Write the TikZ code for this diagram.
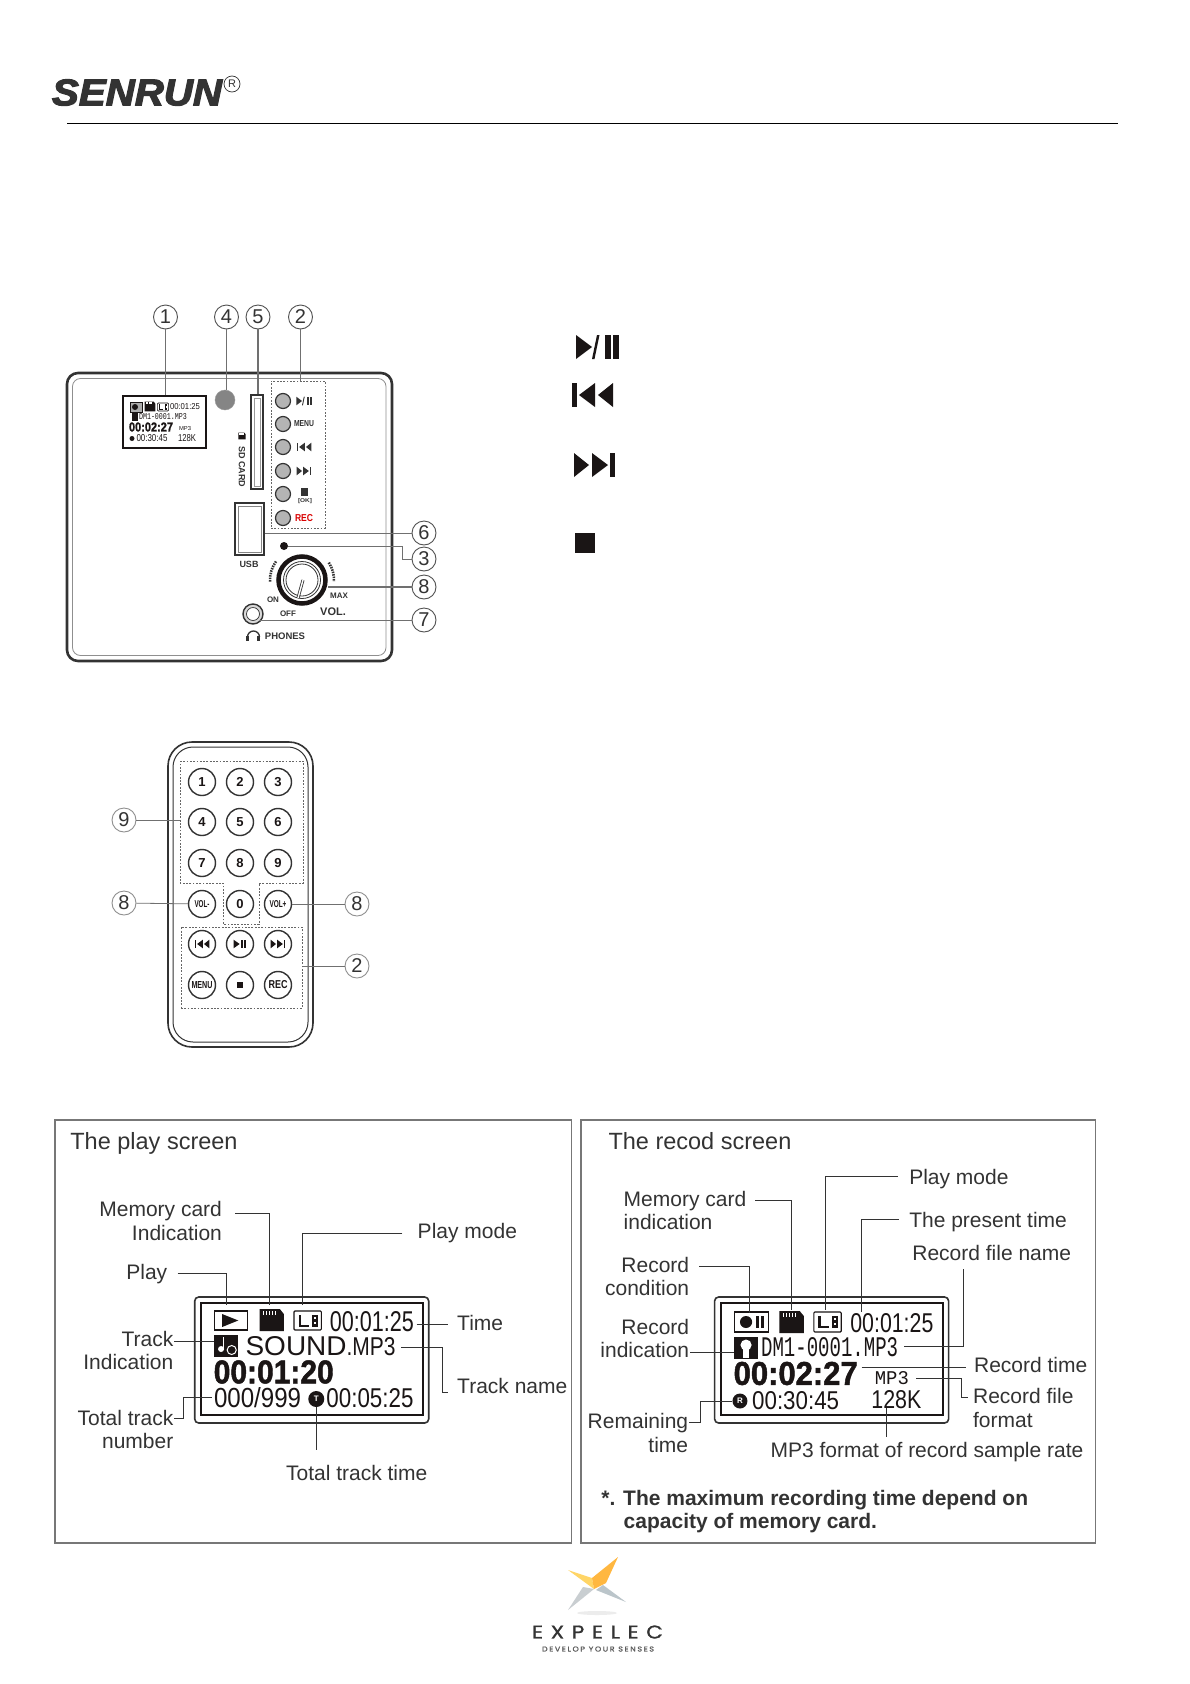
\documentclass[tikz,border=0pt]{standalone}
\usepackage{fontspec}
\usepackage{graphicx}
\setmainfont{Liberation Sans}
\newfontfamily\logofont[FakeBold=1]{Poppins}
\newfontfamily\lcdmono{Liberation Mono}
\newfontfamily\brandfont[FakeBold=3]{Liberation Sans Bold Italic}
\newfontfamily\lcdbold[FakeBold=1.5]{Liberation Sans Bold}
\definecolor{ink}{HTML}{333333}
\definecolor{dark}{HTML}{1A1515}
\definecolor{frameg}{HTML}{777777}
\definecolor{btn}{HTML}{B4B4B4}
\newcommand\fitt[3]{\resizebox{#1pt}{#2pt}{#3}}
\newcommand\fsz[1]{\fontsize{#1}{#1}\selectfont}
\tikzset{
  x=1pt,y=-1pt,
  lbl/.style={inner sep=0,text=ink,font=\fsz{21}},
  lcd/.style={inner sep=0,text=dark},
  conn/.style={draw=ink,line width=1pt},
  thinconn/.style={draw=ink!70,line width=.8pt},
  num/.style={circle,draw=ink!85,line width=.9pt,inner sep=0,minimum size=24pt,text=ink,font=\fsz{20}},
  panelbtn/.style={circle,draw=ink,line width=1.2pt,fill=btn,inner sep=0,minimum size=15pt},
  rbtn/.style={circle,draw=ink,line width=1.4pt,inner sep=0,minimum size=27pt,text=dark,font=\bfseries\fsz{13}},
  dotbox/.style={draw=ink!75,line width=1pt,dash pattern=on 1.8pt off 1.5pt},
  lcdouter/.style={draw=ink,line width=1.6pt,rounded corners=4pt},
  lcdinner/.style={draw=dark,line width=1.8pt},
  previco/.pic={\fill (-20.5,-12) rectangle (-15.5,12);
    \fill (2.5,-12)--(2.5,12)--(-13.5,0)--cycle;
    \fill (20.5,-12)--(20.5,12)--(5.5,0)--cycle;},
  ppico/.pic={\fill (-21.5,-12)--(-21.5,12)--(-5.5,0)--cycle;
    \fill (-.5,-12)--(2,-12)--(-3,12)--(-5.5,12)--cycle;
    \fill (7.5,-12) rectangle (13.5,12);
    \fill (15.5,-12) rectangle (21.5,12);},
  playbarico/.pic={\fill (-18,-12)--(-18,12)--(-1,0)--cycle;
    \fill (3,-12) rectangle (9,12);
    \fill (12,-12) rectangle (18,12);},
  stopico/.pic={\fill (-10,-10) rectangle (10,10);},
  modeico/.pic={\draw[fill=white,rounded corners=1pt] (-13.5,-9.5) rectangle (13.5,9.5);
    \fill (-9,-6) rectangle (-6.5,6);\fill (-9,4) rectangle (1,6);
    \fill (4,-6) rectangle (10,6);
    \fill[white] (6,-3.5) rectangle (8,-1.5);\fill[white] (6,1) rectangle (8,3);},
  sdico/.pic={\fill (-12,-11)--(8,-11)--(12,-6)--(12,11)--(-12,11)--cycle;
    \foreach \i in {-9,-6,-3,0,3}{\fill[white] (\i,-9) rectangle ++(1.6,4);}},
}
\begin{document}
\begin{tikzpicture}
\useasboundingbox (0,0) rectangle (1190,1684);
\fill[white] (0,0) rectangle (1190,1684);

% ---- header
\node[inner sep=0,text=ink] (brand) at (137,92.5) {\fitt{170}{26}{\brandfont SENRUN}};
\node[circle,draw=ink,line width=.7pt,inner sep=0,minimum size=16pt,text=ink,font=\fsz{11}] (regmark) at (232,84) {R};
\coordinate (ruleA) at (67,123.5);
\coordinate (ruleB) at (1118,123.5);
\draw[black,line width=1.1pt] (ruleA) -- (ruleB);

% ---- big key symbols
\pic[color=dark] at (597.5,347) {ppico};
\pic[color=dark] at (592.5,395) {previco};
\pic[color=dark,xscale=-1] at (594.5,465) {previco};
\pic[color=dark] at (584.5,543) {stopico};

% ---- front panel
\draw[draw=ink,line width=2.6pt,rounded corners=11pt] (67,373) rectangle (392,661);
\draw[draw=ink!55,line width=.8pt,rounded corners=8pt] (72.5,378.5) rectangle (386,655.5);

\node[num] (n1) at (165.5,317) {1};
\node[num] (n4) at (226.5,317) {4};
\node[num] (n5) at (258,317) {5};
\node[num] (n2) at (300.5,317) {2};
\node[num] (n6) at (424,533) {6};
\node[num] (n3) at (424,559) {3};
\node[num] (n8a) at (424,587) {8};
\node[num] (n7) at (424,620) {7};

% mini screen
\node[draw=dark,line width=2.6pt,inner sep=0,minimum width=83pt,minimum height=52pt] (miniscreen) at (164.5,422) {};
\draw[dark,line width=.7pt,fill=ink!40] (130,402) rectangle (142,412);
\fill[dark] (135,407) circle (3);
\pic[color=dark,scale=.45] at (150,406.5) {sdico};
\pic[color=dark,scale=.42,line width=.6pt] at (163,407) {modeico};
\node[lcd] (mtime) at (185,407) {\fitt{30}{6}{00:01:25}};
\fill[dark] (132,413) rectangle (138,421);
\node[lcd] (mname) at (163,417) {\fitt{48}{6}{\lcdmono DM1-0001.MP3}};
\node[lcd] (mrec) at (151,427) {\fitt{44}{9}{\lcdbold 00:02:27}};
\node[lcd] (mfmt) at (185,428.5) {\fitt{12}{4}{MP3}};
\fill[dark] (132,438.5) circle (2.5);
\node[lcd] (mrem) at (152,438.5) {\fitt{31}{7}{00:30:45}};
\node[lcd] (mkbps) at (187,438.5) {\fitt{18}{7}{128K}};

\draw[thinconn,line width=1.1pt] (n1) -- (n1 |- miniscreen.north);

\node[circle,fill=ink!60,draw=ink!50,inner sep=0,minimum size=20pt] (sensor) at (225,400) {};
\draw[thinconn,line width=1.1pt] (n4) -- (n4 |- sensor.north);

\node[draw=ink,line width=1.4pt,fill=white,inner sep=0,minimum width=12pt,minimum height=94pt] (slot) at (257,442) {};
\draw[ink!50,line width=.7pt] (254,398) rectangle (260,486);
\draw[thinconn,line width=1.1pt] (n5) -- (n5 |- slot.north);
\pic[color=dark,scale=.3] at (242,436) {sdico};
\node[inner sep=0,rotate=-90,text=ink,font=\bfseries\fsz{9}] (sdlabel) at (242,467) {SD CARD};

\node[dotbox,inner sep=0,minimum width=54pt,minimum height=147pt] (panelgroup) at (298,454.5) {};
\draw[thinconn,line width=1.1pt] (n2) -- (n2 |- panelgroup.north);
\node[panelbtn] (pb1) at (283,401) {};
\node[panelbtn] (pb2) at (283,424) {};
\node[panelbtn] (pb3) at (283,447) {};
\node[panelbtn] (pb4) at (283,471) {};
\node[panelbtn] (pb5) at (283,494) {};
\node[panelbtn] (pb6) at (283,518) {};
\pic[color=ink,scale=.36] at (304,401) {ppico};
\node[inner sep=0,text=ink] (pmenu) at (304,424) {\fitt{20}{6}{\bfseries MENU}};
\pic[color=ink,scale=.36] at (304,447) {previco};
\pic[color=ink,scale=.36,xscale=-1] at (304,471) {previco};
\pic[color=ink,scale=.38] at (304.5,492) {stopico};
\node[inner sep=0,text=ink] (pok) at (305,501) {\fitt{14}{4}{\bfseries [OK]}};
\node[inner sep=0,text=red!85!black] (prec) at (304,518) {\fitt{18}{7}{\bfseries REC}};

\node[draw=ink,line width=1.4pt,fill=white,inner sep=0,minimum width=29pt,minimum height=52pt] (usb) at (249.5,529) {};
\draw[ink!60,line width=.7pt] (238,506) rectangle (261,552);
\node[inner sep=0,text=ink,font=\bfseries\fsz{9}] (usblabel) at (249,564) {USB};
\draw[thinconn] (n6) -- (n6 -| usb.east);

\node[circle,fill=dark,inner sep=0,minimum size=8pt] (led) at (284,546) {};
\coordinate (ledbend) at (402,546);
\draw[thinconn,line width=1pt] (led) -- (ledbend) -- (n3 -| ledbend) -- (n3);

\node[circle,draw=dark,line width=4.5pt,fill=white,inner sep=0,minimum size=47pt] (knob) at (302,580) {};
\draw[ink,line width=.8pt] (knob.center) circle (18.5);
\draw[ink,line width=.8pt] (knob.center) circle (16);
\coordinate (ptrA) at (298,598);
\coordinate (ptrB) at (303,580);
\draw[ink,line width=3pt] (ptrA) -- (ptrB);
\draw[white,line width=1.4pt] (ptrA) -- (ptrB);
\draw[ink,line width=2.6pt,dash pattern=on 1.5pt off 1pt] (knob.center) ++(177:32) arc[start angle=177,end angle=217,radius=32];
\draw[ink,line width=2.6pt,dash pattern=on 1.5pt off 1pt] (knob.center) ++(-33:32) arc[start angle=-33,end angle=3,radius=32];
\coordinate (knobtap) at (328,587);
\draw[thinconn,line width=1.1pt] (n8a) -- (knobtap);
\node[inner sep=0,text=ink,font=\bfseries\fsz{8}] (onlabel) at (273,600) {ON};
\node[inner sep=0,text=ink,font=\bfseries\fsz{8}] (offlabel) at (288,614) {OFF};
\node[inner sep=0,text=ink,font=\bfseries\fsz{8}] (maxlabel) at (339,596) {MAX};
\node[inner sep=0,text=ink,font=\bfseries\fsz{11}] (vollabel) at (333,612) {VOL.};

\node[circle,draw=ink,line width=1.4pt,fill=btn!50,inner sep=0,minimum size=20pt] (jack) at (253,614) {};
\draw[ink,line width=.7pt,fill=white] (jack.center) circle (6.5);
\coordinate (jacktap) at (260,620);
\draw[thinconn,line width=.8pt] (n7) -- (jacktap);
\draw[ink,line width=1.3pt] (247.5,637) arc[start angle=180,end angle=360,radius=6];
\fill[ink] (246,636) rectangle (249,641);
\fill[ink] (257,636) rectangle (260,641);
\node[inner sep=0,text=ink,font=\bfseries\fsz{9.5}] (phones) at (285,636) {PHONES};

% ---- remote control
\draw[ink,line width=1.6pt,rounded corners=24pt] (168,742) rectangle (313,1047);
\draw[ink,line width=1pt,rounded corners=20pt] (173,747) rectangle (308,1042);
\coordinate (g1) at (180,761);
\coordinate (g2) at (303,761);
\coordinate (g3) at (303,883);
\coordinate (g4) at (259,883);
\coordinate (g5) at (259,924);
\coordinate (g6) at (223,924);
\coordinate (g7) at (223,883);
\coordinate (g8) at (180,883);
\draw[dotbox] (g1) -- (g2) -- (g3) -- (g4) -- (g5) -- (g6) -- (g7) -- (g8) -- cycle;
\node[dotbox,inner sep=0,minimum width=121pt,minimum height=81pt] (transport) at (241.5,967.5) {};

\node[rbtn] (k1) at (202,782) {1};
\node[rbtn] (k2) at (240,782) {2};
\node[rbtn] (k3) at (278,782) {3};
\node[rbtn] (k4) at (202,822) {4};
\node[rbtn] (k5) at (240,822) {5};
\node[rbtn] (k6) at (278,822) {6};
\node[rbtn] (k7) at (202,863) {7};
\node[rbtn] (k8) at (240,863) {8};
\node[rbtn] (k9) at (278,863) {9};
\node[rbtn] (kvm) at (202,904) {\fitt{15}{7}{VOL-}};
\node[rbtn] (k0) at (240,904) {0};
\node[rbtn] (kvp) at (278,904) {\fitt{17}{7}{VOL+}};
\node[rbtn] (kprev) at (202,944) {};
\node[rbtn] (kplay) at (240,944) {};
\node[rbtn] (knext) at (278,944) {};
\node[rbtn] (kmenu) at (202,985) {\fitt{21}{7}{MENU}};
\node[rbtn] (kstop) at (240,985) {};
\node[rbtn] (krec) at (278,985) {\fitt{19}{8}{REC}};
\pic[color=dark,scale=.36] at (kprev) {previco};
\pic[color=dark,scale=.36] at (kplay) {playbarico};
\pic[color=dark,scale=.36,xscale=-1] at (knext) {previco};
\pic[color=dark,scale=.3] at (kstop) {stopico};

\node[num,draw=ink!55] (r9) at (124,820) {9};
\node[num,draw=ink!55] (r8a) at (124,903) {8};
\node[num,draw=ink!55] (r8b) at (357,904) {8};
\node[num,draw=ink!55] (r2) at (357,966) {2};
\draw[thinconn] (r9) -- (r9 -| g1);
\draw[thinconn] (r8a) -- (kvm);
\draw[thinconn] (r8b) -- (kvp);
\draw[thinconn] (r2) -- (r2 -| transport.east);

% ---- play screen panel
\begin{scope}[x=1.0127pt,xshift=-0.7pt]
\node[draw=frameg,line width=1.4pt,inner sep=0,minimum width=516.5pt,minimum height=423pt] (playpanel) at (310,1331.5) {};
\node[lbl,font=\fsz{23.5},anchor=base west] (ptitle) at (70,1149) {The play screen};

\node[draw=ink,lcdouter,inner sep=0,minimum width=234pt,minimum height=126pt] (plcd) at (308.5,1360) {};
\node[lcdinner,inner sep=0,minimum width=222pt,minimum height=112pt] (plcdin) at (308.5,1359) {};
\node[draw=dark,line width=1.1pt,inner sep=0,minimum width=33pt,minimum height=19pt] (picoplay) at (228.5,1320.5) {};
\fill[dark] (220,1314)--(220,1327)--(236,1320.5)--cycle;
\pic[color=dark] at (269,1320) {sdico};
\pic[color=dark,line width=1.1pt] at (304.5,1320.5) {modeico};
\node[lcd] (ptime) at (368,1322) {\fitt{84}{20}{00:01:25}};
\fill[dark] (212,1335) rectangle (236,1357);
\fill[white] (219,1349) circle (3);\fill[white] (220.5,1337) rectangle (222,1349);
\draw[white,fill=dark,line width=1pt] (229.5,1350) circle (4.5);
\node[lcd,anchor=base west] (pname) at (243,1355) {\fitt{101}{19}{SOUND}\fitt{49}{18}{.MP3}};
\node[lcd] (pelapsed) at (271,1372) {\fitt{120}{23}{\lcdbold 00:01:20}};
\node[lcd] (pcount) at (255,1398) {\fitt{87}{20}{000/999}};
\node[circle,fill=dark,inner sep=0,minimum size=16pt,text=white,font=\bfseries\fsz{8}] (ptee) at (313,1399) {T};
\node[lcd] (ptotal) at (366,1398) {\fitt{87}{19}{00:05:25}};

\node[lbl,anchor=base east] (lmem1) at (220,1216) {Memory card};
\node[lbl,anchor=base east] (lmem2) at (220,1240) {Indication};
\node[lbl,anchor=base west] (lmode) at (413,1238) {Play mode};
\node[lbl,anchor=base east] (lplay) at (166,1279) {Play};
\node[lbl,anchor=base west] (ltime) at (452,1330) {Time};
\node[lbl,anchor=base east] (ltrk1) at (172,1346) {Track};
\node[lbl,anchor=base east] (ltrk2) at (172,1369) {Indication};
\node[lbl,anchor=base west] (lname) at (452,1393) {Track name};
\node[lbl,anchor=base east] (lttn1) at (172,1425) {Total track};
\node[lbl,anchor=base east] (lttn2) at (172,1448) {number};
\node[lbl,anchor=base west] (lttt) at (283,1480) {Total track time};

\coordinate (pa1) at (233,1213); \coordinate (pa2) at (267,1305);
\draw[conn] (pa1) -| (pa2);
\coordinate (pb1c) at (398,1233); \coordinate (pb2c) at (299,1305);
\draw[conn] (pb1c) -| (pb2c);
\coordinate (pc1) at (176,1273); \coordinate (pc2) at (224,1305);
\draw[conn] (pc1) -| (pc2);
\coordinate (pd1) at (412,1324); \coordinate (pd2) at (443,1324);
\draw[conn] (pd1) -- (pd2);
\coordinate (pe1) at (173,1341); \coordinate (pe2) at (212,1341);
\draw[conn] (pe1) -- (pe2);
\coordinate (pf1) at (397,1347); \coordinate (pf2) at (438,1392); \coordinate (pf3) at (443,1392);
\draw[conn] (pf1) -| (pf2) -- (pf3);
\coordinate (pg1) at (173,1418); \coordinate (pg2) at (182,1397); \coordinate (pg3) at (210,1397);
\draw[conn] (pg1) -| (pg2) -- (pg3);
\coordinate (ph1) at (313,1450);
\draw[conn] (ptee) -- (ph1);
\end{scope}

% ---- record screen panel
\begin{scope}[x=1.0127pt,xshift=-7.4pt]
\node[draw=frameg,line width=1.4pt,inner sep=0,minimum width=514.5pt,minimum height=423pt] (recpanel) at (835,1331.5) {};
\node[lbl,font=\fsz{23.5},anchor=base west] (rtitle) at (608,1149) {The recod screen};

\node[draw=ink,lcdouter,inner sep=0,minimum width=234pt,minimum height=126pt] (rlcd) at (828.5,1360) {};
\node[lcdinner,inner sep=0,minimum width=222pt,minimum height=112pt] (rlcdin) at (828.5,1359) {};
\node[draw=dark,line width=1.1pt,inner sep=0,minimum width=34pt,minimum height=20pt] (ricorec) at (749,1322) {};
\fill[dark] (744,1322) circle (6);
\fill[dark] (754,1316) rectangle (757,1328);
\fill[dark] (759,1316) rectangle (762,1328);
\pic[color=dark] at (789,1322) {sdico};
\pic[color=dark,line width=1.1pt,yscale=1.05] at (824.5,1322) {modeico};
\node[lcd] (rtime) at (888,1323.5) {\fitt{83}{19}{00:01:25}};
\fill[dark] (732,1337) rectangle (756,1359);
\fill[white] (744,1345) circle (5.5);\fill[white] (741,1349) rectangle (747,1358);
\node[lcd] (rname) at (826.5,1347.5) {\fitt{137}{19}{\lcdmono DM1-0001.MP3}};
\node[lcd] (relapsed) at (793,1373.5) {\fitt{124}{23}{\lcdbold 00:02:27}};
\node[lcd] (rfmt) at (888,1378.5) {\fitt{34}{13}{\lcdmono MP3}};
\node[circle,fill=dark,inner sep=0,minimum size=15pt,text=white,font=\bfseries\fsz{8}] (rarr) at (738,1401) {R};
\node[lcd] (rrem) at (793,1400.5) {\fitt{87}{18}{00:30:45}};
\node[lcd] (rkbps) at (892.5,1400) {\fitt{50}{18}{128K}};

\node[lbl,anchor=base west] (qmode) at (905,1184) {Play mode};
\node[lbl,anchor=base west] (qmem1) at (623,1206) {Memory card};
\node[lbl,anchor=base west] (qmem2) at (623,1229) {indication};
\node[lbl,anchor=base west] (qnow) at (905,1227) {The present time};
\node[lbl,anchor=base west] (qfile) at (908,1260) {Record file name};
\node[lbl,anchor=base east] (qcond1) at (688,1272) {Record};
\node[lbl,anchor=base east] (qcond2) at (688,1295) {condition};
\node[lbl,anchor=base east] (qind1) at (688,1334) {Record};
\node[lbl,anchor=base east] (qind2) at (688,1357) {indication};
\node[lbl,anchor=base west] (qrt) at (969,1372) {Record time};
\node[lbl,anchor=base west] (qff1) at (968,1403) {Record file};
\node[lbl,anchor=base west] (qff2) at (968,1427) {format};
\node[lbl,anchor=base east] (qrem1) at (687,1428) {Remaining};
\node[lbl,anchor=base east] (qrem2) at (687,1452) {time};
\node[lbl,anchor=base west] (qmp3) at (768,1457) {MP3 format of record sample rate};
\node[lbl,font=\bfseries\fsz{21},anchor=base west] (note1) at (601,1505) {*. The maximum recording time depend on};
\node[lbl,font=\bfseries\fsz{21},anchor=base west] (note2) at (623,1528) {capacity of memory card.};

\coordinate (qa1) at (894,1176); \coordinate (qa2) at (822,1310);
\draw[conn] (qa1) -| (qa2);
\coordinate (qb1) at (753,1200); \coordinate (qb2) at (789,1310);
\draw[conn] (qb1) -| (qb2);
\coordinate (qc1) at (895,1219); \coordinate (qc2) at (858,1312);
\draw[conn] (qc1) -| (qc2);
\coordinate (qd1) at (959,1269); \coordinate (qd2) at (900,1346);
\draw[conn] (qd1) |- (qd2);
\coordinate (qe1) at (698,1266); \coordinate (qe2) at (747,1313);
\draw[conn] (qe1) -| (qe2);
\coordinate (qf1) at (689,1352); \coordinate (qf2) at (732,1352);
\draw[conn] (qf1) -- (qf2);
\coordinate (qg1) at (858,1367); \coordinate (qg2) at (961,1367);
\draw[conn] (qg1) -- (qg2);
\coordinate (qh1) at (912,1378); \coordinate (qh2) at (957,1397); \coordinate (qh3) at (963,1397);
\draw[conn] (qh1) -| (qh2) -- (qh3);
\coordinate (qi1) at (688,1422); \coordinate (qi2) at (699,1401);
\draw[conn] (qi1) -| (qi2) -- (rarr);
\coordinate (qj1) at (883,1408); \coordinate (qj2) at (883,1437);
\draw[conn] (qj1) -- (qj2);
\end{scope}

% ---- footer logo
\fill[gray!15] (597,1613) ellipse (20 and 2);
\fill[orange!55!yellow!60] (568,1570)--(592,1578)--(594,1589)--cycle;
\fill[orange!75!yellow!75] (618,1557)--(592,1578)--(594,1589)--(606,1583)--cycle;
\fill[cyan!10!gray!45] (594,1589)--(568,1610)--(583,1587)--cycle;
\fill[cyan!15!gray!55] (626,1602)--(603,1585)--(596,1590)--cycle;
\node[inner sep=0,text=ink] (expelec) at (597.5,1632) {\fitt{131}{13}{\logofont\addfontfeature{LetterSpace=35}EXPELEC}};
\node[inner sep=0,text=ink!80] (slogan) at (598,1649) {\fitt{112}{5}{\logofont\addfontfeature{LetterSpace=20}DEVELOP YOUR SENSES}};
\end{tikzpicture}
\end{document}
